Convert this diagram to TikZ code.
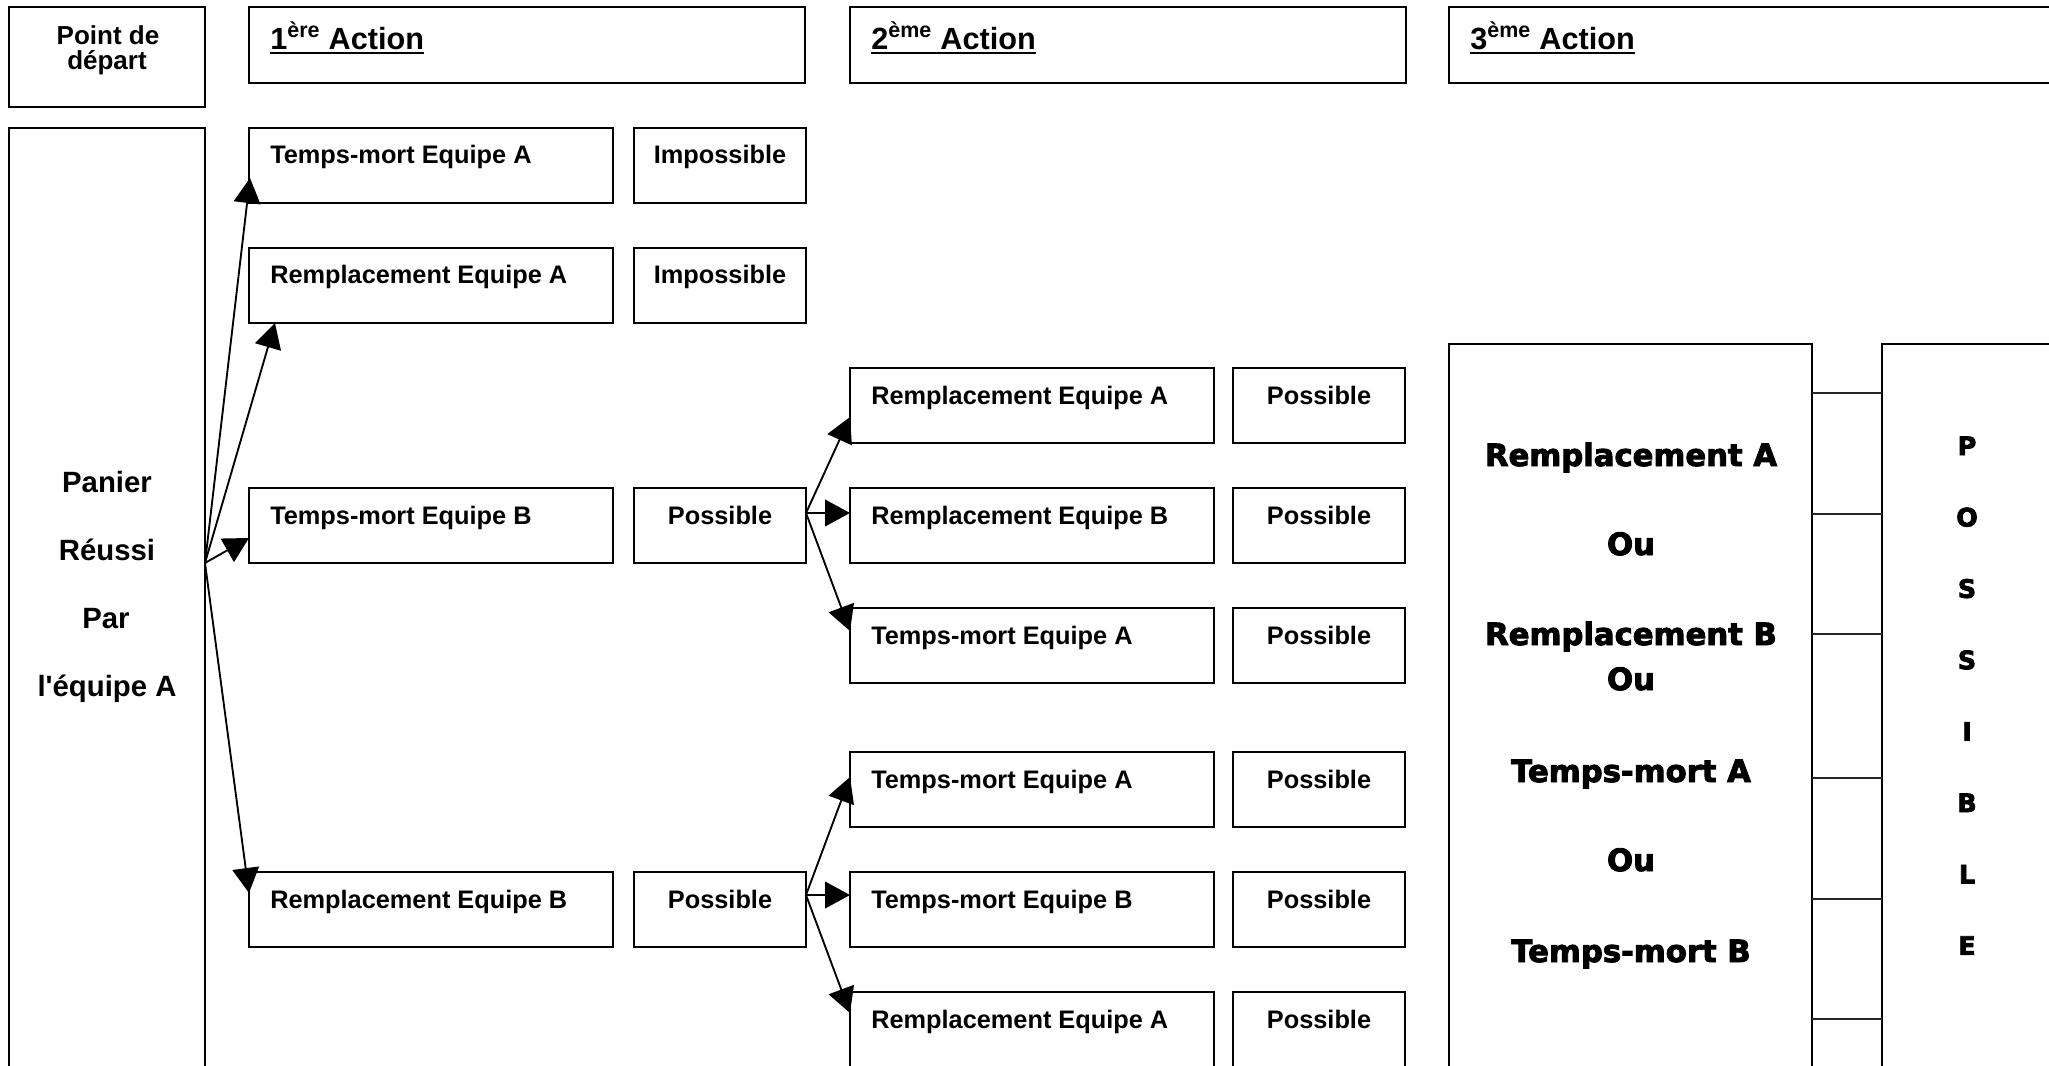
\documentclass[tikz,border=0pt]{standalone}
\usepackage{fontspec}
\setmainfont{Liberation Sans}
\newfontfamily\blackfont{DejaVu Sans Bold}[FakeBold=3]
\usetikzlibrary{arrows.meta,calc}
\begin{document}
\begin{tikzpicture}[x=0.75pt,y=-0.75pt,
 box/.style={draw,line width=1.7pt,inner sep=0pt,outer sep=0pt,anchor=north west},
 wide/.style={minimum width=273pt,minimum height=56.25pt},
 stat/.style={minimum width=129pt,minimum height=56.25pt},
 lbl/.style={inner sep=0pt,anchor=base west,font=\fontsize{19}{22}\selectfont\bfseries},
 slbl/.style={inner sep=0pt,anchor=base,font=\fontsize{19}{22}\selectfont\bfseries},
 plbl/.style={inner sep=0pt,anchor=base,font=\fontsize{22}{26}\selectfont\bfseries},
 dlbl/.style={inner sep=0pt,anchor=base,font=\fontsize{19.5}{22}\selectfont\bfseries},
 head/.style={inner sep=0pt,anchor=base west,font=\fontsize{23}{27}\selectfont\bfseries},
 big/.style={inner sep=0pt,anchor=base,font=\fontsize{23}{27}\selectfont\blackfont},
 letter/.style={inner sep=0pt,anchor=base,font=\fontsize{19}{22}\selectfont\blackfont},
 arr/.style={line width=1.4pt,-{Triangle[length=18.75pt,width=20pt]}},
 conn/.style={line width=1.1pt,black!85},
 uline/.style={line width=1.5pt}]
\useasboundingbox (0,0) rectangle (2049,1066);
\fill[white] (0,0) rectangle (2049,1066);
\clip (0,0) rectangle (2049,1066);

% header row
\node[box,minimum width=147pt,minimum height=75pt] (dep) at (9,7) {};
\node[dlbl] (dep1) at (108,45) {Point de};
\node[dlbl] (dep2) at (107,70) {départ};

\node[box,minimum width=417pt,minimum height=57pt] (h1) at (249,7) {};
\node[box,minimum width=417pt,minimum height=57pt] (h2) at (850,7) {};
\node[box,minimum width=525pt,minimum height=57pt] (h3) at (1449,7) {};
\node[head] (h1t) at (270,50) {1\textsuperscript{ère} Action};
\node[head] (h2t) at (871,50) {2\textsuperscript{ème} Action};
\node[head] (h3t) at (1470,50) {3\textsuperscript{ème} Action};
\foreach \h in {h1t,h2t,h3t}
  \draw[uline] ($(\h.base west)+(0,3)$) -- ($(\h.base east)+(0,3)$);

% starting box
\node[box,minimum width=147pt,minimum height=750pt] (pan) at (9,128) {};
\node[plbl] (pan1) at (107,492) {Panier};
\node[plbl] (pan2) at (107,560) {Réussi};
\node[plbl] (pan3) at (106,628) {Par};
\node[plbl] (pan4) at (107,696) {l\textquotesingle équipe A};

% first action column
\node[box,wide] (b1) at (249,128) {};
\node[box,wide] (b2) at (249,248) {};
\node[box,wide] (b3) at (249,488) {};
\node[box,wide] (b4) at (249,872) {};
\node[box,stat] (s1) at (634,128) {};
\node[box,stat] (s2) at (634,248) {};
\node[box,stat] (s3) at (634,488) {};
\node[box,stat] (s4) at (634,872) {};
\node[lbl] (b1t) at (270,164) {Temps-mort Equipe A};
\node[lbl] (b2t) at (270,284) {Remplacement Equipe A};
\node[lbl] (b3t) at (270,524) {Temps-mort Equipe B};
\node[lbl] (b4t) at (270,908) {Remplacement Equipe B};
\node[slbl] (s1t) at (720,164) {Impossible};
\node[slbl] (s2t) at (720,284) {Impossible};
\node[slbl] (s3t) at (720,524) {Possible};
\node[slbl] (s4t) at (720,908) {Possible};

% second action column
\node[box,wide] (c1) at (850,368) {};
\node[box,wide] (c2) at (850,488) {};
\node[box,wide] (c3) at (850,608) {};
\node[box,wide] (c4) at (850,752) {};
\node[box,wide] (c5) at (850,872) {};
\node[box,wide] (c6) at (850,992) {};
\node[box,stat] (d1) at (1233,368) {};
\node[box,stat] (d2) at (1233,488) {};
\node[box,stat] (d3) at (1233,608) {};
\node[box,stat] (d4) at (1233,752) {};
\node[box,stat] (d5) at (1233,872) {};
\node[box,stat] (d6) at (1233,992) {};
\node[lbl] (c1t) at (871,404) {Remplacement Equipe A};
\node[lbl] (c2t) at (871,524) {Remplacement Equipe B};
\node[lbl] (c3t) at (871,644) {Temps-mort Equipe A};
\node[lbl] (c4t) at (871,788) {Temps-mort Equipe A};
\node[lbl] (c5t) at (871,908) {Temps-mort Equipe B};
\node[lbl] (c6t) at (871,1028) {Remplacement Equipe A};
\foreach \d/\y in {d1/404,d2/524,d3/644,d4/788,d5/908,d6/1028}
  \node[slbl] (\d t) at (1319,\y) {Possible};

% third action column
\node[box,minimum width=272.25pt,minimum height=600pt] (t3) at (1449,344) {};
\node[box,minimum width=225pt,minimum height=600pt] (p3) at (1882,344) {};
\node[big] (r1) at (1631,466) {Remplacement A};
\node[big] (o1) at (1631,555) {Ou};
\node[big] (r2) at (1631,645) {Remplacement B};
\node[big] (o2) at (1631,690) {Ou};
\node[big] (r3) at (1631,782) {Temps-mort A};
\node[big] (o3) at (1631,871) {Ou};
\node[big] (r4) at (1631,962) {Temps-mort B};
\foreach \l [count=\i] in {P,O,S,S,I,B,L,E}
  \node[letter] (pl\i) at (1967,{455+71.4*(\i-1)}) {\l};
\foreach \y [count=\i] in {393,514,634,778,899,1019} {
  \coordinate (hc\i) at (1850,\y);
  \draw[conn] (t3.east |- hc\i) -- (p3.west |- hc\i);
}

% arrows from the starting box
\coordinate (S) at (pan.east |- b3.south);
\draw[arr] (S) -- ($(b1.south west)+(1,-25)$);
\draw[arr] (S) -- ($(b2.south west)+(26,0)$);
\draw[arr] (S) -- ($(b3.south west)+(0,-25)$);
\draw[arr] (S) -- ($(b4.north west)+(0,21)$);

% arrows of the first branch
\coordinate (P1) at ($(s3.north east)+(0,25)$);
\draw[arr] (P1) -- ($(c1.south west)+(0,-26)$);
\draw[arr] (P1) -- ($(c2.north west)+(0,25)$);
\draw[arr] (P1) -- ($(c3.north west)+(0,23)$);

% arrows of the second branch
\coordinate (P2) at ($(s4.north east)+(0,23)$);
\draw[arr] (P2) -- ($(c4.north west)+(0,25)$);
\draw[arr] (P2) -- ($(c5.north west)+(0,23)$);
\draw[arr] (P2) -- ($(c6.north west)+(0,21)$);
\end{tikzpicture}
\end{document}
